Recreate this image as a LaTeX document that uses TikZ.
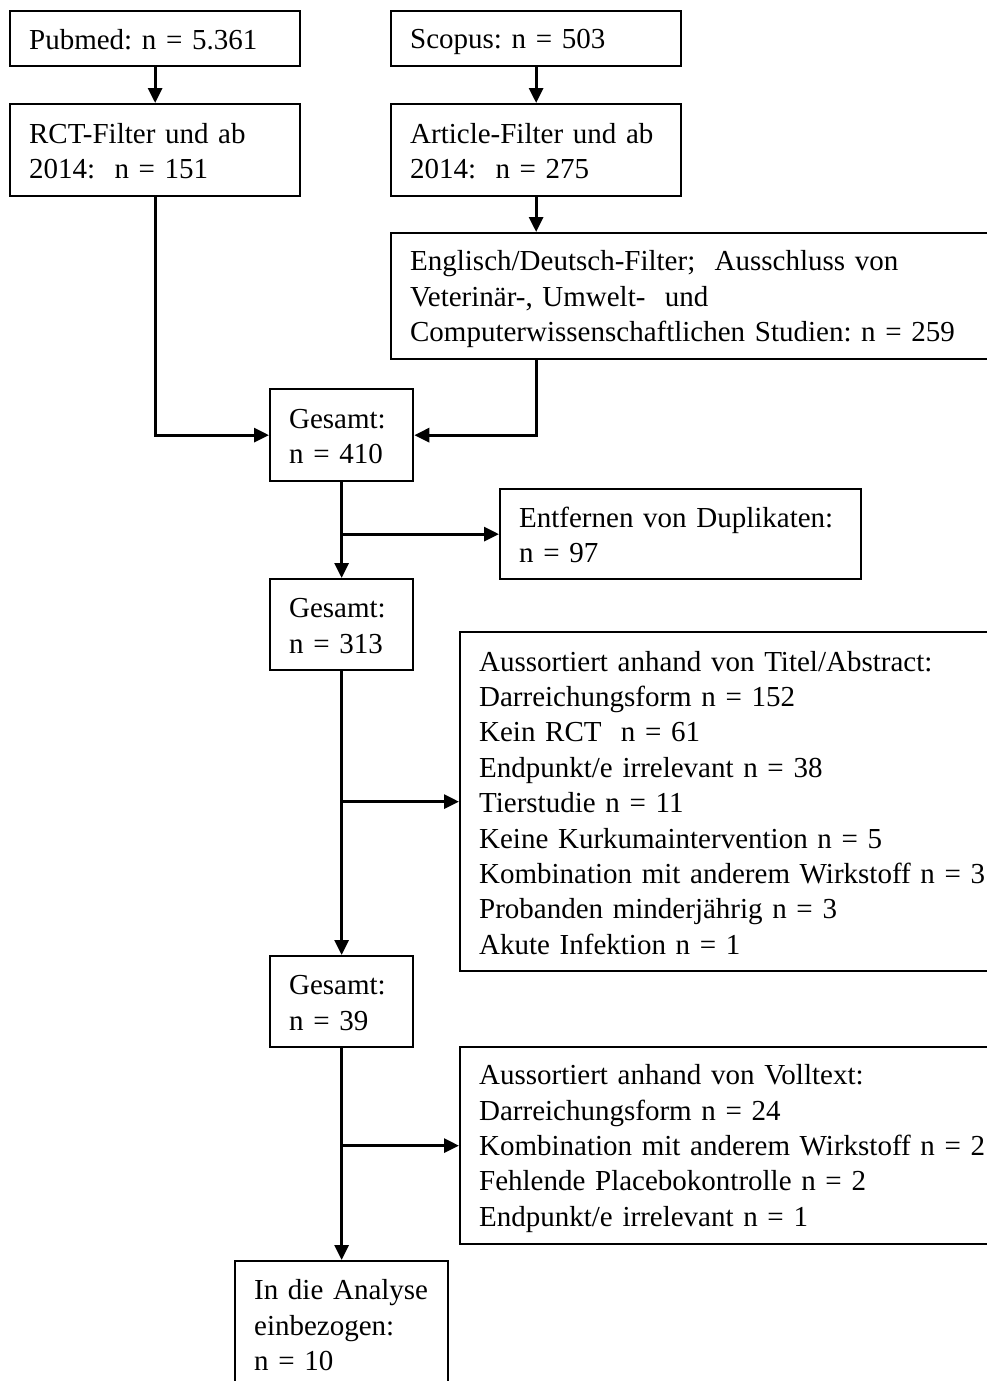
\documentclass[tikz,border=0pt]{standalone}
\usepackage{fontspec}
\setmainfont[WordSpace={0.55,0.3,0.2}]{Liberation Serif}
\frenchspacing
\usetikzlibrary{arrows.meta}
\begin{document}
\begin{tikzpicture}[x=1pt,y=-1pt,
  box/.style={draw,line width=2.3pt,anchor=north west,inner xsep=19pt,inner ysep=0pt,
    align=left,font=\fontsize{29}{35.4}\selectfont,
    execute at begin node={\rule{0pt}{26pt}},execute at end node={\rule[-4pt]{0pt}{4pt}}},
  conn/.style={line width=3pt},
  arr/.style={conn,-{Triangle[length=15pt,width=14pt]}}]
\useasboundingbox (0,0) rectangle (987,1381);
\clip (0,0) rectangle (987,1381);
\node[box,text width=252pt,minimum height=55pt] (pub) at (9,10) {Pubmed: n = 5.361};
\node[box,text width=252pt,minimum height=55pt] (sco) at (390,10) {Scopus: n = 503};
\node[box,text width=252pt,minimum height=92pt] (rct) at (9,103) {RCT-Filter und ab\\2014:\ \ n = 151};
\node[box,text width=252pt,minimum height=92pt] (art) at (390,103) {Article-Filter und ab\\2014:\ \ n = 275};
\node[box,text width=600pt,minimum height=126pt] (eng) at (390,232) {Englisch/Deutsch-Filter;\ \ Ausschluss von\\Veterinär-, Umwelt-\ \ und\\Computerwissenschaftlichen Studien: n = 259};
\node[box,text width=105pt,minimum height=92pt] (g1) at (269,388) {Gesamt:\\n = 410};
\node[box,text width=323pt,minimum height=90pt] (dup) at (499,488) {Entfernen von Duplikaten:\\n = 97};
\node[box,text width=105pt,minimum height=91pt] (g2) at (269,578) {Gesamt:\\n = 313};
\node[box,text width=560pt,minimum height=339pt] (tit) at (459,631) {Aussortiert anhand von Titel/Abstract:\\Darreichungsform n = 152\\Kein RCT\ \ n = 61\\Endpunkt/e irrelevant n = 38\\Tierstudie n = 11\\Keine Kurkumaintervention n = 5\\Kombination mit anderem Wirkstoff n = 3\\Probanden minderjährig n = 3\\Akute Infektion n = 1};
\node[box,text width=105pt,minimum height=91pt] (g3) at (269,955) {Gesamt:\\n = 39};
\node[box,text width=560pt,minimum height=197pt] (vol) at (459,1046) {Aussortiert anhand von Volltext:\\Darreichungsform n = 24\\Kombination mit anderem Wirkstoff n = 2\\Fehlende Placebokontrolle n = 2\\Endpunkt/e irrelevant n = 1};
\node[box,text width=175pt,minimum height=126pt] (fin) at (234,1260) {In die Analyse\\einbezogen:\\n = 10};
\draw[arr] (pub) -- (rct);
\draw[arr] (sco) -- (art);
\draw[arr] (art) -- (art.south |- eng.north);
\draw[arr] (rct.south) |- (g1.west);
\draw[arr] (art.south |- eng.south) |- (g1.east);
\draw[arr] (g1) -- (g2);
\draw[arr] (g1.south |- dup.west) -- (dup.west);
\draw[arr] (g2) -- (g3);
\draw[arr] (g2.south |- tit.west) -- (tit.west);
\draw[arr] (g3.south) -- (g3.south |- fin.north);
\draw[arr] (g3.south |- vol.west) -- (vol.west);
\end{tikzpicture}
\end{document}
